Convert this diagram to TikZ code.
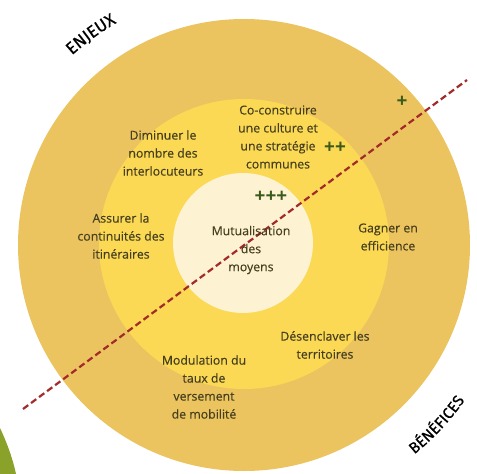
\documentclass[tikz,border=0pt]{standalone}
\usepackage{fontspec}
\usetikzlibrary{decorations.text}
\setmainfont{Open Sans}
\newfontfamily\lblfont{Open Sans}[FakeBold=0.25]
\newfontfamily\handfont{Fira Sans}[FakeBold=0.6]
\definecolor{outerc}{HTML}{ECC45F}
\definecolor{midc}{HTML}{FBD955}
\definecolor{innerc}{HTML}{FDF3D3}
\definecolor{txtc}{HTML}{453F1E}
\definecolor{plusc}{HTML}{3B5A1C}
\definecolor{dashc}{HTML}{A32A2A}
\definecolor{leafc}{HTML}{8AA12A}
\begin{document}
\begin{tikzpicture}[x=1pt,y=-1pt,
  lbl/.style={align=center,text=txtc,font=\lblfont\fontsize{12.3}{18}\selectfont,inner sep=0pt},
  plus/.style={text=plusc,font=\fontsize{19}{19}\selectfont\bfseries,inner sep=0pt},
  ring/.style={circle,inner sep=0pt,minimum size=#1}]
\useasboundingbox (0,0) rectangle (477,474);
\fill[white] (0,0) rectangle (477,474);
\fill[leafc] (0,428) .. controls (8,445) and (13,460) .. (16,474) -- (0,474) -- cycle;
\node[ring=452pt,fill=outerc] (outer) at (244,245) {};
\node[ring=290pt,fill=midc] (middle) at (244,244) {};
\node[ring=140pt,fill=innerc] (inner) at (243,243) {};
\coordinate (d1) at (23,409);
\coordinate (d2) at (467,80);
\draw[dashc,line width=2.2pt,dash pattern=on 6.5pt off 3.5pt] (d1) -- (d2);
\node[lbl] (co) at (278,137) {Co-construire\\une culture et\\une stratégie\\communes};
\node[lbl] (dim) at (163,153) {Diminuer le\\nombre des\\interlocuteurs};
\node[lbl] (ass) at (121,236) {Assurer la\\continuités des\\itinéraires};
\node[lbl] (mut) at (251,250) {Mutualisation\\des\\moyens};
\node[lbl] (gag) at (388,237) {Gagner en\\efficience};
\node[lbl] (des) at (325,345) {Désenclaver les\\territoires};
\node[lbl] (mod) at (204,387) {Modulation du\\taux de\\versement\\de mobilité};
\node[plus] (p1) at (402,102) {+};
\node[plus] (p2) at (335,148) {++};
\node[plus] (p3) at (271,197) {+++};
\coordinate (c) at (244,245);
\path[decorate,decoration={text along path,text align=center,
   text={|\handfont\fontsize{17}{17}\selectfont|ENJEUX}}]
   (c) ++(-152:256) arc[start angle=-152,end angle=-100,radius=256];
\path[decorate,decoration={text along path,text align=center,
   text={|\handfont\fontsize{15.5}{15.5}\selectfont|BÉNÉFICES}}]
   (c) ++(72:270) arc[start angle=72,end angle=14,radius=270];
\end{tikzpicture}
\end{document}
